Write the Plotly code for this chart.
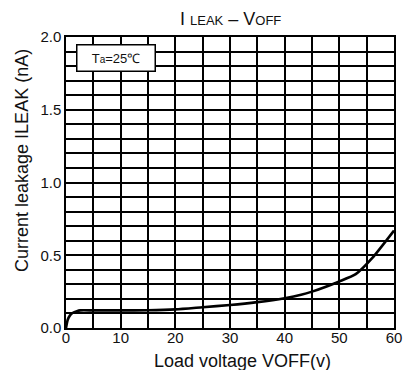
import plotly.graph_objects as go

# Leakage current vs. off-state load voltage
voff = [0, 0.3, 0.7, 1.2, 2.0, 2.6, 5, 10, 15, 20, 25, 30, 35, 40, 43, 45, 50, 53, 56, 60]
ileak = [0, 0.055, 0.085, 0.103, 0.116, 0.121, 0.121, 0.121, 0.122, 0.128, 0.143,
         0.158, 0.178, 0.205, 0.228, 0.25, 0.32, 0.37, 0.48, 0.67]

x_ticks = [0, 10, 20, 30, 40, 50, 60]
y_ticks = [0.0, 0.5, 1.0, 1.5, 2.0]

font_family = "Liberation Sans, Arial, sans-serif"
ink = "#111"

fig = go.Figure()
fig.add_trace(go.Scatter(
    x=voff, y=ileak, mode="lines",
    line=dict(color="black", width=2.6, shape="spline", smoothing=0.6),
    showlegend=False, hoverinfo="skip",
))

fig.update_layout(
    width=409, height=370,
    margin=dict(l=66, r=15, t=37, b=42, autoexpand=False),
    paper_bgcolor="white", plot_bgcolor="white",
    font=dict(family=font_family, color=ink, size=14),
    xaxis=dict(
        range=[0, 60], tickvals=x_ticks, ticktext=[str(v) for v in x_ticks],
        showgrid=True, gridcolor="black", gridwidth=1.5,
        minor=dict(dtick=5, showgrid=True, gridcolor="black", gridwidth=1.5),
        showline=True, linecolor="black", linewidth=1.5, mirror=True,
        ticks="", zeroline=False, automargin=False,
        tickfont=dict(size=15), ticklabelstandoff=-5,
    ),
    yaxis=dict(
        range=[0, 2.0], tickvals=y_ticks, ticktext=[f"{v:.1f}" for v in y_ticks],
        showgrid=True, gridcolor="black", gridwidth=1.5,
        minor=dict(dtick=0.1, showgrid=True, gridcolor="black", gridwidth=1.5),
        showline=True, linecolor="black", linewidth=1.5, mirror=True,
        ticks="", zeroline=False, automargin=False,
        tickfont=dict(size=15),
    ),
)

# Chart heading with small-caps subscripts
fig.add_annotation(
    xref="paper", yref="paper", x=0.5, y=1, yshift=17.7,
    xanchor="center", yanchor="middle", showarrow=False,
    text="I <span style='font-size:13px'>LEAK</span> – V<span style='font-size:13px'>OFF</span>",
    font=dict(size=18, color=ink),
)

# Axis titles
fig.add_annotation(
    xref="paper", yref="paper", x=0.538, y=0, yshift=-32.8,
    xanchor="center", yanchor="middle", showarrow=False,
    text="Load voltage VOFF(v)", font=dict(size=18, color=ink),
)
fig.add_annotation(
    xref="paper", yref="paper", x=0, y=0.574, xshift=-44,
    xanchor="center", yanchor="middle", showarrow=False, textangle=-90,
    text="Current leakage ILEAK (nA)", font=dict(size=18, color=ink),
)

# Ambient temperature note
fig.add_annotation(
    xref="paper", yref="paper", x=0.032, y=0.927, xanchor="left", yanchor="middle",
    text="T<span style='font-size:10px'>a</span>=25℃",
    showarrow=False, font=dict(size=13, color=ink),
    bgcolor="white", bordercolor="black", borderwidth=1.5, borderpad=1,
    width=75, height=23,
)

fig.write_html("out.html")
